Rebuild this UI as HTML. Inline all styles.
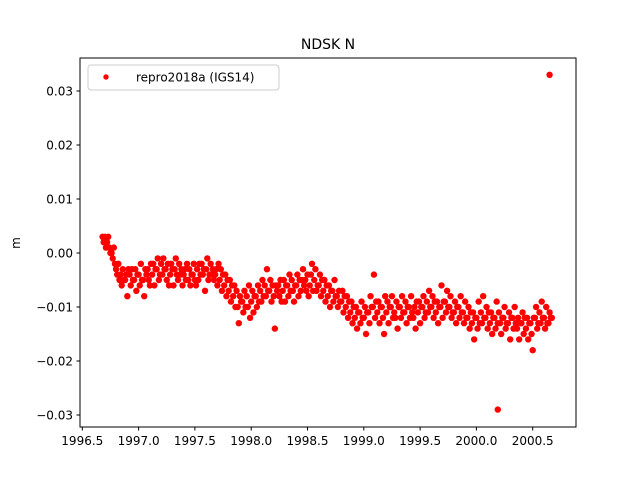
<!DOCTYPE html>
<html><head><meta charset="utf-8"><style>
body{margin:0;background:#fff;}
svg{display:block;font-family:"DejaVu Sans","Liberation Sans",sans-serif;}
</style></head><body>
<svg id="chart" width="640" height="480" viewBox="0 0 640 480">
<rect width="640" height="480" fill="#fff"/>
<text x="328" y="49" font-size="14" text-anchor="middle">NDSK N</text>
<text transform="translate(20,243) rotate(-90)" font-size="12" text-anchor="middle">m</text>
<g id="points"></g>
<g id="ticks"></g>
<rect x="80" y="58" width="496" height="369" fill="none" stroke="#000" stroke-width="1"/>
<g>
<rect x="88" y="65" width="191" height="25" rx="3" fill="#fff" fill-opacity="0.8" stroke="#ccc"/>
<circle cx="106" cy="77" r="2.7" fill="#f00"/>
<text x="136" y="81.5" font-size="12">repro2018a (IGS14)</text>
</g>
</svg>
<script>
const times=[1996.68,1996.72,1996.76,1996.80,1996.84,1996.88,1996.92,1996.96,1997.00,1997.04,1997.08,1997.12,1997.16,1997.20,1997.24,1997.28,1997.32,1997.36,1997.40,1997.44,1997.48,1997.52,1997.56,1997.60,1997.64,1997.68,1997.72,1997.76,1997.80,1997.84,1997.88,1997.92,1997.96,1998.00,1998.04,1998.08,1998.12,1998.16,1998.20,1998.24,1998.28,1998.32,1998.36,1998.40,1998.44,1998.48,1998.52,1998.56,1998.60,1998.64,1998.68,1998.72,1998.76,1998.80,1998.84,1998.88,1998.92,1998.96,1999.00,1999.04,1999.08,1999.12,1999.16,1999.20,1999.24,1999.28,1999.32,1999.36,1999.40,1999.44,1999.48,1999.52,1999.56,1999.60,1999.64,1999.68,1999.72,1999.76,1999.80,1999.84,1999.88,1999.92,1999.96,2000.00,2000.04,2000.08,2000.12,2000.16,2000.20,2000.24,2000.28,2000.32,2000.36,2000.40,2000.44,2000.48,2000.52,2000.56,2000.60,2000.64];
const valuesMm=[[3,2,3,1],[2,3,1,0],[0,-1,1,-2],[-3,-4,-2,-5],[-4,-6,-3,-5],[-5,-4,-8,-3],[-4,-6,-3,-5],[-5,-3,-7,-4],[-4,-6,-2,-5],[-5,-8,-3,-4],[-3,-5,-6,-2],[-4,-2,-6,-3],[-3,-1,-5,-4],[-2,-4,-1,-3],[-3,-5,-2,-6],[-4,-2,-3,-6],[-3,-1,-4,-5],[-2,-4,-3,-6],[-4,-3,-5,-2],[-5,-3,-6,-4],[-4,-2,-5,-6],[-3,-5,-2,-4],[-2,-4,-3,-7],[-3,-1,-5,-4],[-2,-4,-3,-5],[-4,-3,-6,-2],[-5,-3,-7,-4],[-6,-4,-8,-5],[-7,-5,-9,-6],[-8,-6,-10,-7],[-10,-13,-8,-9],[-9,-11,-7,-10],[-8,-10,-6,-12],[-9,-7,-11,-8],[-8,-10,-6,-9],[-7,-9,-5,-8],[-6,-8,-3,-7],[-7,-5,-9,-6],[-8,-14,-6,-7],[-6,-8,-5,-9],[-7,-5,-9,-6],[-6,-8,-4,-7],[-5,-7,-9,-6],[-6,-4,-8,-5],[-7,-5,-3,-6],[-5,-7,-4,-8],[-6,-4,-2,-7],[-5,-3,-7,-6],[-6,-4,-8,-5],[-7,-5,-9,-6],[-8,-6,-10,-7],[-7,-9,-5,-8],[-8,-10,-7,-9],[-9,-7,-11,-8],[-10,-8,-12,-9],[-11,-9,-13,-10],[-12,-10,-14,-11],[-11,-13,-9,-12],[-12,-10,-15,-11],[-11,-13,-8,-10],[-10,-4,-12,-9],[-11,-9,-13,-10],[-10,-12,-15,-8],[-11,-9,-13,-10],[-10,-8,-12,-11],[-12,-9,-14,-10],[-10,-12,-8,-11],[-11,-9,-13,-10],[-10,-12,-8,-11],[-12,-10,-14,-9],[-11,-9,-13,-10],[-10,-8,-12,-11],[-9,-11,-7,-10],[-10,-8,-12,-9],[-11,-9,-13,-10],[-10,-6,-12,-9],[-9,-11,-7,-10],[-10,-8,-12,-11],[-11,-9,-13,-10],[-10,-12,-8,-11],[-11,-13,-9,-12],[-12,-10,-14,-11],[-13,-11,-16,-12],[-12,-14,-9,-13],[-11,-13,-8,-12],[-12,-10,-14,-11],[-13,-11,-15,-12],[-12,-14,-9,-13],[-11,-13,-15,-12],[-12,-10,-14,-13],[-13,-11,-16,-12],[-12,-14,-10,-13],[-14,-12,-16,-13],[-13,-11,-15,-12],[-14,-12,-16,-13],[-13,-15,-18,-12],[-12,-10,-14,-13],[-11,-13,-9,-12],[-12,-14,-10,-13],[-13,-11,-12,-12]];
const outlierTimes=[2000.65,2000.19];
const outlierValuesMm=[33,-29];
const xTicks=[1996.5,1997.0,1997.5,1998.0,1998.5,1999.0,1999.5,2000.0,2000.5];
const yTicks=[-0.03,-0.02,-0.01,0.00,0.01,0.02,0.03];

const NS='http://www.w3.org/2000/svg';
function xs(t){return 82.3+(t-1996.5)*112.6;}
function ys(v){return 253-v*5400;}
const pg=document.getElementById('points');
function dot(t,v){
  const c=document.createElementNS(NS,'circle');
  c.setAttribute('cx',xs(t).toFixed(2));
  c.setAttribute('cy',ys(v).toFixed(2));
  c.setAttribute('r','3.2');
  c.setAttribute('fill','#f00');
  
  
  pg.appendChild(c);
}
times.forEach((t,i)=>{valuesMm[i].forEach((v,k)=>dot(t+k*0.01,v/1000));});
outlierTimes.forEach((t,i)=>dot(t,outlierValuesMm[i]/1000));

const tg=document.getElementById('ticks');
xTicks.forEach(t=>{
  const x=xs(t);
  const l=document.createElementNS(NS,'line');
  l.setAttribute('x1',x);l.setAttribute('x2',x);l.setAttribute('y1',427);l.setAttribute('y2',430.5);l.setAttribute('stroke','#000');
  
  
  tg.appendChild(l);
  const tx=document.createElementNS(NS,'text');
  tx.setAttribute('x',x);tx.setAttribute('y',445);tx.setAttribute('font-size','12');tx.setAttribute('text-anchor','middle');
  tx.textContent=t.toFixed(1);
  
  
  tg.appendChild(tx);
});
yTicks.forEach(v=>{
  const y=ys(v);
  const l=document.createElementNS(NS,'line');
  l.setAttribute('x1',76.5);l.setAttribute('x2',80);l.setAttribute('y1',y);l.setAttribute('y2',y);l.setAttribute('stroke','#000');
  
  
  tg.appendChild(l);
  const tx=document.createElementNS(NS,'text');
  tx.setAttribute('x',73);tx.setAttribute('y',y+4.5);tx.setAttribute('font-size','12');tx.setAttribute('text-anchor','end');
  tx.textContent=(v<0?'\u2212':'')+Math.abs(v).toFixed(2);
  
  
  tg.appendChild(tx);
});
</script>
</body></html>
